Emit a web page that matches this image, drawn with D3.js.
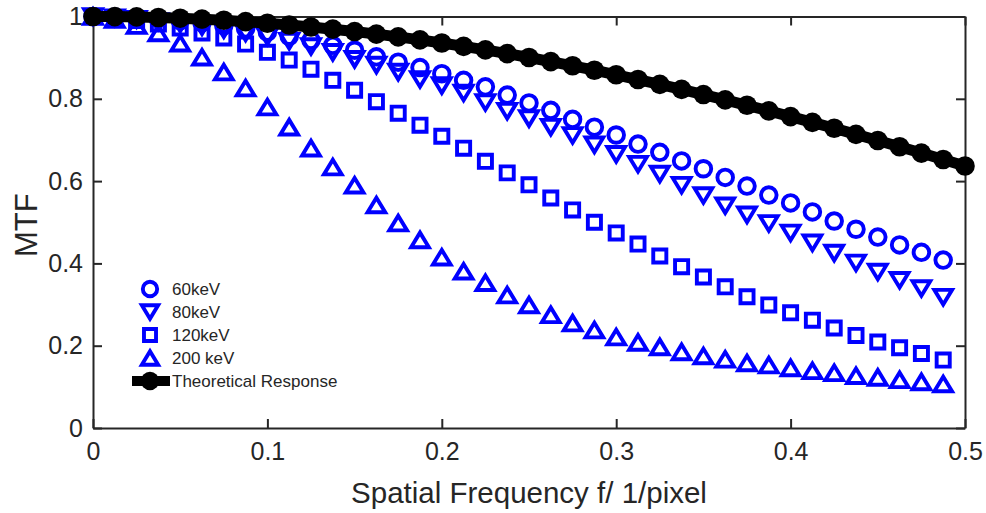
<!DOCTYPE html>
<html>
<head>
<meta charset="utf-8">
<script src="https://cdn.jsdelivr.net/npm/d3@7"></script>
<style>
  html, body { margin: 0; padding: 0; background: #fff; }
  svg { display: block; }
  text { font-family: "Liberation Sans", Arial, Helvetica, sans-serif; fill: #262626; }
</style>
</head>
<body>
<svg id="chart" width="986" height="513"></svg>
<script>
// ---------------- data ----------------
const freqMeasured = [0, 0.0125, 0.025, 0.0375, 0.05, 0.0625, 0.075, 0.0875, 0.1, 0.1125,
  0.125, 0.1375, 0.15, 0.1625, 0.175, 0.1875, 0.2, 0.2125, 0.225, 0.2375,
  0.25, 0.2625, 0.275, 0.2875, 0.3, 0.3125, 0.325, 0.3375, 0.35, 0.3625,
  0.375, 0.3875, 0.4, 0.4125, 0.425, 0.4375, 0.45, 0.4625, 0.475, 0.4875];

const freqTheory = [0, 0.0125, 0.025, 0.0375, 0.05, 0.0625, 0.075, 0.0875, 0.1, 0.1125,
  0.125, 0.1375, 0.15, 0.1625, 0.175, 0.1875, 0.2, 0.2125, 0.225, 0.2375,
  0.25, 0.2625, 0.275, 0.2875, 0.3, 0.3125, 0.325, 0.3375, 0.35, 0.3625,
  0.375, 0.3875, 0.4, 0.4125, 0.425, 0.4375, 0.45, 0.4625, 0.475, 0.4875, 0.5];

const mtf60 = [1.000, 0.999, 0.997, 0.994, 0.990, 0.985, 0.978, 0.970, 0.962, 0.952,
  0.942, 0.930, 0.918, 0.902, 0.889, 0.876, 0.861, 0.845, 0.829, 0.809,
  0.790, 0.772, 0.750, 0.731, 0.712, 0.690, 0.670, 0.649, 0.630, 0.609,
  0.588, 0.566, 0.547, 0.525, 0.503, 0.483, 0.464, 0.445, 0.427, 0.408];

const mtf80 = [1.000, 0.997, 0.993, 0.988, 0.982, 0.975, 0.968, 0.960, 0.951, 0.940,
  0.927, 0.913, 0.896, 0.882, 0.865, 0.847, 0.832, 0.814, 0.791, 0.770,
  0.752, 0.731, 0.711, 0.688, 0.665, 0.641, 0.617, 0.590, 0.565, 0.540,
  0.518, 0.497, 0.474, 0.450, 0.425, 0.401, 0.379, 0.359, 0.339, 0.318];

const mtf120 = [1.000, 0.997, 0.990, 0.982, 0.972, 0.960, 0.948, 0.933, 0.913, 0.894,
  0.872, 0.845, 0.821, 0.793, 0.765, 0.736, 0.709, 0.680, 0.648, 0.620,
  0.591, 0.559, 0.530, 0.500, 0.474, 0.447, 0.418, 0.392, 0.367, 0.343,
  0.319, 0.299, 0.280, 0.262, 0.243, 0.225, 0.209, 0.195, 0.181, 0.165];

const mtf200 = [1.000, 0.993, 0.978, 0.960, 0.935, 0.901, 0.865, 0.826, 0.780, 0.731,
  0.680, 0.634, 0.590, 0.542, 0.498, 0.457, 0.415, 0.381, 0.353, 0.323,
  0.299, 0.275, 0.255, 0.238, 0.221, 0.208, 0.197, 0.185, 0.175, 0.167,
  0.158, 0.153, 0.146, 0.139, 0.134, 0.127, 0.123, 0.117, 0.112, 0.107];

const mtfTheory = [1.0000, 0.9997, 0.9990, 0.9977, 0.9959, 0.9936, 0.9908, 0.9875, 0.9836, 0.9793,
  0.9745, 0.9692, 0.9634, 0.9571, 0.9504, 0.9432, 0.9355, 0.9274, 0.9188, 0.9098,
  0.9003, 0.8904, 0.8802, 0.8695, 0.8584, 0.8469, 0.8351, 0.8229, 0.8103, 0.7974,
  0.7842, 0.7707, 0.7568, 0.7427, 0.7283, 0.7136, 0.6987, 0.6835, 0.6681, 0.6524, 0.6366];

const xTicks = [0, 0.1, 0.2, 0.3, 0.4, 0.5];
const xTickLabels = ["0", "0.1", "0.2", "0.3", "0.4", "0.5"];
const yTicks = [0, 0.2, 0.4, 0.6, 0.8, 1];
const yTickLabels = ["0", "0.2", "0.4", "0.6", "0.8", "1"];

const seriesNames = ["60keV", "80keV", "120keV", "200 keV", "Theoretical Response"];
const xLabel = "Spatial Frequency f/ 1/pixel";
const yLabel = "MTF";

(function draw() {
  const svg = d3.select("#chart");
  const L = 93, R = 965, T = 16.5, B = 428;
  const x = d3.scaleLinear().domain([0, 0.5]).range([L, R]);
  const y = d3.scaleLinear().domain([0, 1]).range([B, T]);

  const blue = "#0000ff";
  const axisColor = "#262626";

  const shapes = {
    circle: s => `M${s},0A${s},${s} 0 1,1 ${-s},0A${s},${s} 0 1,1 ${s},0Z`,
    tdown: s => `M${-s*1.15},${-s*0.95}L${s*1.15},${-s*0.95}L0,${s*0.95}Z`,
    tup:   s => `M${-s*1.15},${s*0.95}L${s*1.15},${s*0.95}L0,${-s*0.95}Z`,
    square: s => `M${-s*0.85},${-s*0.85}H${s*0.85}V${s*0.85}H${-s*0.85}Z`
  };

  const series = [
    {name: seriesNames[0], xs: freqMeasured, ys: mtf60, shape: "circle", size: 7.8},
    {name: seriesNames[1], xs: freqMeasured, ys: mtf80, shape: "tdown", size: 7.7},
    {name: seriesNames[2], xs: freqMeasured, ys: mtf120, shape: "square", size: 7.7},
    {name: seriesNames[3], xs: freqMeasured, ys: mtf200, shape: "tup", size: 7.7}
  ];

  const axG = svg.append("g");
  const fmtX = (d, i) => xTickLabels[i];
  const fmtY = (d, i) => yTickLabels[i];

  axG.append("g").attr("transform", `translate(0,${B})`)
    .call(d3.axisBottom(x).tickValues(xTicks).tickFormat(fmtX).tickSizeInner(-9).tickSizeOuter(0).tickPadding(14));
  axG.append("g").attr("transform", `translate(${L},0)`)
    .call(d3.axisLeft(y).tickValues(yTicks).tickFormat(fmtY).tickSizeInner(-9).tickSizeOuter(0).tickPadding(10));
  axG.append("g").attr("transform", `translate(0,${T})`)
    .call(d3.axisTop(x).tickValues(xTicks).tickFormat("").tickSizeInner(-9).tickSizeOuter(0));
  axG.append("g").attr("transform", `translate(${R},0)`)
    .call(d3.axisRight(y).tickValues(yTicks).tickFormat("").tickSizeInner(-9).tickSizeOuter(0));

  axG.selectAll(".domain").attr("stroke", axisColor).attr("stroke-width", 2);
  axG.selectAll(".tick line").attr("stroke", axisColor).attr("stroke-width", 2);
  axG.selectAll(".tick text").attr("font-size", 25).attr("fill", axisColor)
    .attr("font-family", "'Liberation Sans', Arial, sans-serif");

  svg.append("text").attr("x", (L + R) / 2).attr("y", 503)
    .attr("text-anchor", "middle").attr("font-size", 29.5).text(xLabel);
  svg.append("text").attr("transform", `translate(37,${(T + B) / 2 + 3}) rotate(-90)`)
    .attr("text-anchor", "middle").attr("font-size", 31).text(yLabel);

  const plotG = svg.append("g");
  series.forEach(s => {
    const pts = s.xs.map((fx, i) => [fx, s.ys[i]]);
    plotG.append("g").selectAll("path").data(pts).join("path")
      .attr("transform", d => `translate(${x(d[0])},${y(d[1])})`)
      .attr("d", shapes[s.shape](s.size))
      .attr("fill", "none")
      .attr("stroke", blue)
      .attr("stroke-width", 3.9)
      .attr("stroke-linejoin", "miter");
  });

  const theoryPts = freqTheory.map((fx, i) => [fx, mtfTheory[i]]);
  plotG.append("path").datum(theoryPts)
    .attr("d", d3.line().x(d => x(d[0])).y(d => y(d[1])))
    .attr("fill", "none").attr("stroke", "#000").attr("stroke-width", 11);
  plotG.append("g").selectAll("circle").data(theoryPts).join("circle")
    .attr("cx", d => x(d[0])).attr("cy", d => y(d[1])).attr("r", 9.8)
    .attr("fill", "#000");

  const legX = 150, legY0 = 289, legDy = 23;
  const legG = svg.append("g");
  series.forEach((s, i) => {
    const yy = legY0 + i * legDy;
    legG.append("path").attr("transform", `translate(${legX},${yy})`)
      .attr("d", shapes[s.shape](s.size * 0.92))
      .attr("fill", "none").attr("stroke", blue).attr("stroke-width", 3.9);
    legG.append("text").attr("x", legX + 22).attr("y", yy).attr("dy", "0.36em")
      .attr("font-size", 17).attr("fill", "#000").text(s.name);
  });
  const yy = legY0 + 4 * legDy;
  legG.append("line").attr("x1", legX - 18).attr("x2", legX + 20).attr("y1", yy).attr("y2", yy)
    .attr("stroke", "#000").attr("stroke-width", 10);
  legG.append("circle").attr("cx", legX).attr("cy", yy).attr("r", 9.2).attr("fill", "#000");
  legG.append("text").attr("x", legX + 22).attr("y", yy).attr("dy", "0.36em")
    .attr("font-size", 17).attr("fill", "#000").text(seriesNames[4]);
})();
</script>
</body>
</html>
